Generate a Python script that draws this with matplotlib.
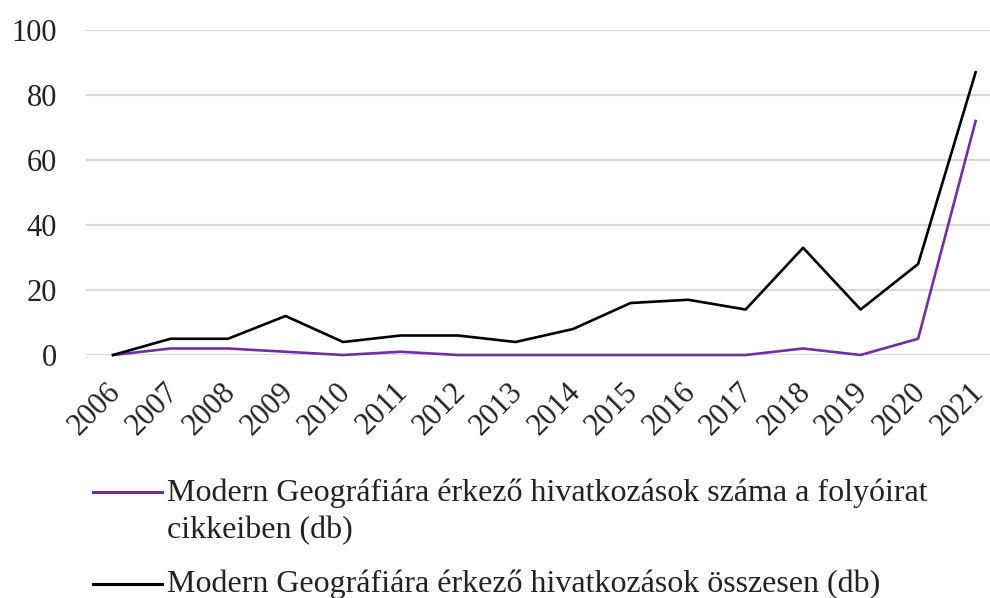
import matplotlib.pyplot as plt
from matplotlib.lines import Line2D
from matplotlib.transforms import ScaledTranslation

years = [str(y) for y in range(2006, 2022)]
cikkek = [0, 2, 2, 1, 0, 1, 0, 0, 0, 0, 0, 0, 2, 0, 5, 72]
osszesen = [0, 5, 5, 12, 4, 6, 6, 4, 8, 16, 17, 14, 33, 14, 28, 87]
label1 = ["Modern Geográfiára érkező hivatkozások száma a folyóirat",
          "cikkeiben (db)"]
label2 = "Modern Geográfiára érkező hivatkozások összesen (db)"
purple = '#7030A0'

plt.rcParams['font.family'] = ['Liberation Serif', 'DejaVu Serif']

W, H = 990, 598
fig = plt.figure(figsize=(W / 100, H / 100), dpi=100)
ax = fig.add_axes([86 / W, 1 - 355 / H, 904 / W, 325 / H])

x = list(range(len(years)))
ax.plot(x, cikkek, color=purple, lw=1.9, clip_on=False, zorder=3)
ax.plot(x, osszesen, color='black', lw=1.9, clip_on=False, zorder=4)

ax.set_ylim(0, 100)
ax.set_xlim(-0.47, 15.25)
ax.set_yticks(range(0, 101, 20))
ax.yaxis.grid(True, color='#d9d9d9', lw=1.6)
ax.set_axisbelow(True)
for s in ax.spines.values():
    s.set_visible(False)
ax.tick_params(length=0, labelsize=22, labelcolor='#222222')
ax.tick_params(axis='y', pad=21)
ax.tick_params(axis='x', pad=12)
ax.set_xticks(x)
ax.set_xticklabels(years, rotation=45, ha='right', rotation_mode='anchor')
off = ScaledTranslation(-0.07, -0.06, fig.dpi_scale_trans)
for lab in ax.get_xticklabels():
    lab.set_transform(lab.get_transform() + off)


# legend below the chart, drawn by hand so the handle sits on the first line
def fx(px):
    return px / W


def fy(py):
    return 1 - py / H


fig.add_artist(Line2D([fx(93), fx(162)], [fy(492), fy(492)],
                      color=purple, lw=2.2, transform=fig.transFigure))
fig.add_artist(Line2D([fx(93), fx(162)], [fy(584), fy(584)],
                      color='black', lw=2.2, transform=fig.transFigure))
for txt, base in [(label1[0], 501), (label1[1], 538), (label2, 592)]:
    fig.text(fx(167), fy(base), txt, fontsize=23, color='#222222',
             va='baseline', ha='left')

fig.savefig('out.png', dpi=100)
